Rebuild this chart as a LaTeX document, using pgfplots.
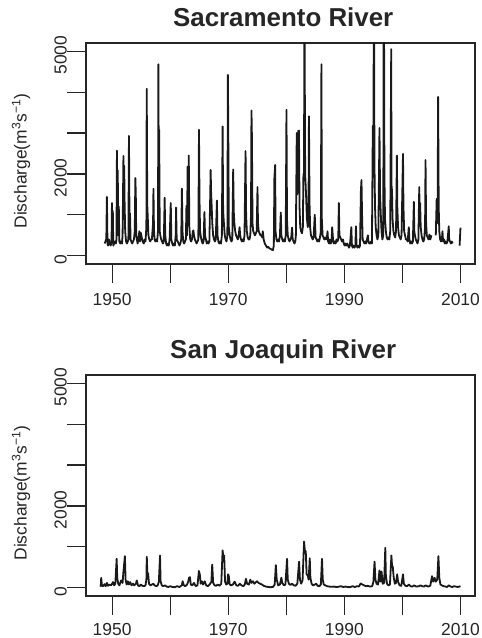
\documentclass[border=0pt]{standalone}
\usepackage{fontspec}
\setmainfont{Liberation Sans}
\usepackage{pgfplots}
\pgfplotsset{compat=1.18}
\usepackage{pgfplotstable}

\pgfplotstableread{
year val
1948.70 300
1948.85 350
1949.00 420
1949.10 1440
1949.20 300
1949.30 250
1949.45 400
1949.60 300
1949.75 250
1949.90 350
1949.97 1290
1950.05 600
1950.12 1100
1950.20 250
1950.35 300
1950.50 350
1950.65 300
1950.75 400
1950.83 2570
1950.92 800
1950.97 2090
1951.05 500
1951.15 1200
1951.25 350
1951.40 300
1951.55 350
1951.70 300
1951.80 500
1951.95 2440
1952.02 900
1952.08 2200
1952.15 1300
1952.25 600
1952.40 350
1952.55 300
1952.70 350
1952.80 400
1952.90 2930
1953.00 700
1953.08 1040
1953.18 400
1953.30 350
1953.45 300
1953.60 350
1953.75 400
1953.90 600
1954.00 1900
1954.08 1500
1954.15 500
1954.25 400
1954.40 300
1954.55 450
1954.70 600
1954.80 350
1954.95 560
1955.10 450
1955.25 350
1955.45 300
1955.60 400
1955.75 350
1955.90 700
1955.96 4080
1956.05 1250
1956.15 900
1956.25 500
1956.40 400
1956.55 350
1956.70 400
1956.85 400
1957.05 800
1957.12 1640
1957.20 700
1957.30 400
1957.45 350
1957.60 400
1957.75 350
1957.90 600
1957.97 4680
1958.05 1200
1958.10 3080
1958.20 600
1958.30 500
1958.45 400
1958.60 350
1958.75 300
1958.90 350
1959.05 1420
1959.15 500
1959.30 300
1959.45 250
1959.60 300
1959.75 250
1959.90 400
1960.10 1290
1960.20 400
1960.35 300
1960.50 250
1960.65 300
1960.80 250
1960.95 500
1961.02 1180
1961.12 400
1961.30 350
1961.45 300
1961.60 250
1961.75 300
1961.90 400
1962.02 1640
1962.12 600
1962.25 350
1962.40 300
1962.55 350
1962.70 400
1962.80 1220
1962.90 500
1963.00 2180
1963.10 1000
1963.20 2450
1963.30 700
1963.45 400
1963.60 350
1963.75 400
1963.90 600
1964.00 620
1964.10 500
1964.25 400
1964.40 350
1964.55 300
1964.70 350
1964.85 400
1964.96 3080
1965.05 1380
1965.15 600
1965.30 450
1965.45 350
1965.60 300
1965.75 350
1965.90 1070
1966.00 500
1966.15 400
1966.30 300
1966.45 350
1966.60 300
1966.75 350
1966.90 1500
1966.97 2100
1967.05 1540
1967.15 1200
1967.25 800
1967.40 500
1967.55 400
1967.70 350
1967.85 400
1968.05 1350
1968.15 500
1968.30 350
1968.45 300
1968.60 350
1968.75 300
1968.90 500
1969.03 3160
1969.12 1100
1969.25 800
1969.40 500
1969.55 400
1969.70 350
1969.85 500
1969.94 4420
1970.02 2720
1970.10 700
1970.25 500
1970.40 400
1970.55 350
1970.70 400
1970.85 2110
1970.95 1090
1971.05 800
1971.20 600
1971.35 500
1971.50 450
1971.65 400
1971.80 500
1971.95 700
1972.05 500
1972.20 400
1972.35 350
1972.50 400
1972.65 350
1972.80 500
1972.98 2560
1973.08 1000
1973.20 600
1973.35 450
1973.50 400
1973.65 400
1973.80 500
1973.92 1000
1974.00 3550
1974.08 2900
1974.18 800
1974.30 600
1974.45 550
1974.60 500
1974.75 550
1974.90 600
1975.04 1680
1975.12 800
1975.25 600
1975.40 550
1975.55 500
1975.70 500
1975.85 450
1975.95 600
1976.10 400
1976.30 300
1976.50 250
1976.70 200
1976.90 220
1977.10 180
1977.30 170
1977.50 150
1977.70 140
1977.85 250
1977.95 1900
1978.08 2220
1978.15 600
1978.30 400
1978.45 350
1978.60 400
1978.75 350
1978.90 500
1979.05 1060
1979.15 500
1979.30 400
1979.45 350
1979.60 400
1979.75 350
1979.90 500
1980.03 3570
1980.12 900
1980.25 500
1980.40 400
1980.55 350
1980.70 400
1980.85 450
1981.00 690
1981.10 400
1981.25 350
1981.40 300
1981.55 350
1981.65 500
1981.80 3000
1981.90 1500
1982.05 3050
1982.18 3060
1982.28 1200
1982.40 700
1982.55 600
1982.70 550
1982.85 700
1982.95 2000
1983.05 1900
1983.12 6500
1983.25 2000
1983.40 1500
1983.55 900
1983.70 700
1983.82 900
1983.90 3410
1984.00 1300
1984.10 700
1984.25 500
1984.40 450
1984.55 400
1984.70 450
1984.90 1000
1985.05 450
1985.20 400
1985.35 350
1985.50 400
1985.65 350
1985.80 450
1985.95 600
1986.05 4680
1986.12 900
1986.25 500
1986.40 450
1986.55 400
1986.70 450
1986.85 400
1987.00 450
1987.10 600
1987.20 350
1987.35 300
1987.50 400
1987.65 300
1987.80 350
1987.90 700
1988.05 400
1988.20 300
1988.35 350
1988.50 300
1988.65 400
1988.80 350
1988.95 400
1989.05 1290
1989.15 500
1989.30 450
1989.45 400
1989.60 350
1989.75 400
1989.90 300
1990.05 250
1990.20 300
1990.35 250
1990.50 300
1990.65 250
1990.80 200
1990.95 250
1991.10 500
1991.20 700
1991.30 250
1991.45 200
1991.60 250
1991.75 200
1991.90 250
1992.00 720
1992.10 250
1992.25 200
1992.40 250
1992.55 200
1992.70 250
1992.85 1600
1992.95 1850
1993.05 1000
1993.15 400
1993.30 350
1993.45 300
1993.60 350
1993.75 300
1993.90 400
1994.05 500
1994.15 350
1994.30 300
1994.45 300
1994.60 350
1994.75 300
1994.90 3180
1994.98 2000
1995.10 7000
1995.18 2300
1995.28 1200
1995.40 700
1995.55 500
1995.70 400
1995.85 500
1996.05 3120
1996.15 1500
1996.28 1000
1996.40 600
1996.55 400
1996.70 500
1996.80 7500
1996.90 2000
1997.00 900
1997.15 600
1997.30 450
1997.45 400
1997.60 450
1997.75 400
1997.90 600
1998.07 5050
1998.12 1730
1998.20 1600
1998.30 900
1998.45 600
1998.60 500
1998.75 450
1998.90 600
1999.05 2450
1999.12 1200
1999.25 700
1999.40 500
1999.55 450
1999.70 400
1999.85 500
2000.10 2490
2000.18 1200
2000.30 600
2000.45 500
2000.60 400
2000.75 400
2000.90 350
2001.10 700
2001.20 400
2001.35 300
2001.50 350
2001.65 300
2001.80 350
2001.97 1320
2002.05 600
2002.15 500
2002.30 400
2002.45 350
2002.60 300
2002.75 400
2002.90 1680
2002.98 800
2003.05 1290
2003.15 700
2003.30 500
2003.45 400
2003.60 350
2003.75 400
2003.90 700
2003.98 2340
2004.08 800
2004.20 500
2004.35 450
2004.50 400
2004.65 520
2004.80 400
2005.00 500
2005.40 nan
2005.75 500
2005.90 1390
2006.05 800
2006.15 3880
2006.25 1200
2006.35 600
2006.50 400
2006.65 350
2006.80 400
2006.90 600
2007.00 350
2007.15 400
2007.30 300
2007.45 350
2007.60 300
2007.75 350
2007.98 720
2008.05 400
2008.20 350
2008.35 300
2008.50 350
2008.65 300
2009.20 nan
2009.85 250
2010.00 690
}\sacramento

\pgfplotstableread{
year val
1947.95 30
1948.05 60
1948.12 245
1948.25 50
1948.45 40
1948.70 90
1948.90 40
1949.10 120
1949.30 50
1949.55 80
1949.80 60
1950.00 100
1950.15 140
1950.35 60
1950.55 100
1950.78 710
1950.88 240
1951.05 100
1951.25 60
1951.55 180
1951.80 120
1951.95 400
1952.20 775
1952.32 200
1952.50 80
1952.70 160
1952.90 80
1953.10 140
1953.35 60
1953.60 100
1953.80 60
1954.10 100
1954.25 180
1954.45 60
1954.70 40
1954.95 80
1955.20 50
1955.50 40
1955.75 60
1955.90 200
1955.97 760
1956.07 370
1956.20 350
1956.35 100
1956.60 60
1956.85 80
1957.10 100
1957.30 60
1957.60 40
1957.85 60
1958.05 150
1958.25 790
1958.35 160
1958.55 60
1958.80 40
1959.10 60
1959.40 30
1959.70 20
1960.00 40
1960.40 20
1960.80 15
1961.20 40
1961.60 20
1962.00 60
1962.15 160
1962.35 60
1962.60 40
1962.90 80
1963.10 150
1963.25 245
1963.40 260
1963.55 80
1963.80 60
1964.10 120
1964.40 40
1964.70 60
1964.95 410
1965.10 330
1965.25 100
1965.45 160
1965.65 80
1965.95 160
1966.20 60
1966.50 40
1966.80 80
1967.10 150
1967.24 570
1967.40 120
1967.65 60
1967.90 50
1968.20 80
1968.50 50
1968.80 100
1969.03 915
1969.18 700
1969.30 790
1969.45 150
1969.65 80
1969.85 100
1969.97 330
1970.10 285
1970.25 80
1970.50 60
1970.80 80
1971.10 150
1971.40 60
1971.70 50
1972.00 100
1972.30 60
1972.60 40
1972.85 80
1973.05 220
1973.25 100
1973.55 80
1973.80 200
1974.00 120
1974.25 160
1974.50 100
1974.80 140
1974.95 160
1975.20 120
1975.50 100
1975.80 80
1976.10 50
1976.50 30
1976.90 20
1977.30 15
1977.70 20
1978.00 80
1978.20 555
1978.35 200
1978.60 60
1978.90 80
1979.15 245
1979.30 120
1979.60 60
1979.85 80
1980.13 710
1980.25 200
1980.45 100
1980.70 70
1981.00 100
1981.30 60
1981.60 50
1981.90 100
1982.20 640
1982.35 200
1982.55 100
1982.80 180
1983.06 1130
1983.20 900
1983.35 900
1983.50 330
1983.70 300
1983.85 200
1984.04 720
1984.15 250
1984.35 100
1984.60 60
1984.90 80
1985.15 100
1985.40 50
1985.70 40
1985.95 80
1986.15 710
1986.28 200
1986.45 80
1986.70 60
1987.00 40
1987.40 30
1987.80 25
1988.20 30
1988.60 20
1989.00 25
1989.40 40
1989.80 20
1990.20 30
1990.60 20
1991.00 15
1991.40 40
1991.80 20
1992.20 40
1992.50 30
1992.80 105
1993.10 80
1993.40 60
1993.70 40
1994.00 50
1994.40 30
1994.80 40
1995.00 150
1995.20 640
1995.35 200
1995.55 100
1995.80 80
1996.05 425
1996.20 150
1996.40 400
1996.60 100
1996.85 120
1997.05 980
1997.15 300
1997.35 100
1997.60 60
1997.85 80
1998.10 790
1998.20 570
1998.35 500
1998.50 250
1998.70 100
1998.90 120
1999.10 330
1999.25 150
1999.50 60
1999.80 50
2000.10 330
2000.25 100
2000.50 50
2000.80 40
2001.10 80
2001.40 40
2001.70 30
2002.00 60
2002.40 30
2002.80 40
2003.10 60
2003.40 40
2003.70 30
2004.00 60
2004.40 30
2004.80 50
2005.10 285
2005.30 150
2005.55 245
2005.75 150
2006.00 200
2006.20 775
2006.35 250
2006.55 80
2006.80 60
2007.10 40
2007.40 30
2007.70 20
2008.00 60
2008.30 30
2008.60 20
2008.90 40
2009.20 30
2009.50 20
2009.80 30
2010.00 40
}\sanjoaquin

\pgfplotsset{
  rpanel/.style={
    scale only axis,
    width=389bp, height=221bp,
    anchor=south west,
    xmin=1945.5, xmax=2012.5,
    ymin=-200, ymax=5200,
    axis line style={line width=1.1bp, black!85},
    xtick={1950,1960,1970,1980,1990,2000,2010},
    xticklabels={1950,,1970,,1990,,2010},
    ytick={0,1000,2000,3000,4000,5000},
    yticklabels={0,,2000,,,5000},
    tick align=outside,
    major tick length=19bp,
    tick style={line width=1.1bp, black!85},
    xtick pos=left, ytick pos=left,
    /pgf/number format/assume math mode=true,
    tick label style={font=\fontsize{17.5}{20}\selectfont, text=black!85},
    xticklabel style={inner sep=0pt, anchor=north, yshift=-10bp},
    yticklabel style={inner sep=0pt, rotate=90, anchor=south, xshift=-4bp},
    label style={font=\fontsize{17.5}{20}\selectfont, text=black!85},
    ylabel={Discharge(m\textsuperscript{3}s\textsuperscript{−1})},
    ylabel style={at={(axis description cs:-0.167,0.466)}, anchor=center},
    title style={font=\fontsize{26}{30}\selectfont\bfseries, text=black!85,
                 at={(axis description cs:0.507,1)}, anchor=base, yshift=11bp, inner sep=0pt},
    unbounded coords=jump,
  }
}

\begin{document}
\begin{tikzpicture}
\path[use as bounding box] (0bp,0bp) rectangle (482bp,638bp);
\begin{axis}[rpanel, at={(86bp,374bp)}, title={Sacramento River}]
\addplot[black!90, line width=1.8bp, line join=round, mark=none] table[x=year, y=val] {\sacramento};
\end{axis}
\begin{axis}[rpanel, at={(86bp,42bp)}, title={San Joaquin River},
  xticklabel style={yshift=2bp}]
\addplot[black!90, line width=1.8bp, line join=round, mark=none] table[x=year, y=val] {\sanjoaquin};
\end{axis}
\end{tikzpicture}
\end{document}
